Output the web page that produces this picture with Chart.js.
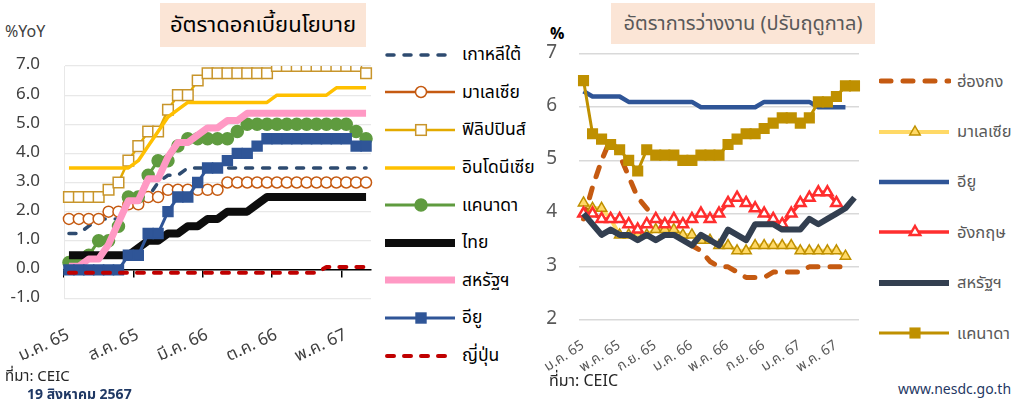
<!DOCTYPE html>
<html lang="th">
<head>
<meta charset="utf-8">
<title>อัตราดอกเบี้ยนโยบาย / อัตราการว่างงาน</title>
<script src="https://cdn.jsdelivr.net/npm/chart.js@4.4.1/dist/chart.umd.min.js"></script>
<style>
  body { margin: 0; width: 1023px; height: 401px; background: #fff; position: relative; overflow: hidden;
    font-family: "Noto Sans Thai", "Noto Sans", "DejaVu Sans", sans-serif; }
  .abs { position: absolute; }
  .titleBox { background: #fbe5d6; display: flex; align-items: center; justify-content: center; white-space: nowrap; }
  .legend { display: flex; flex-direction: column; }
  .legend .item { display: flex; align-items: center; white-space: nowrap; }
  .legend svg { flex: none; }
</style>
</head>
<body>

<div class="abs" style="left:5px;top:20px;font-size:16px;color:#404040">%YoY</div>
<div class="abs titleBox" style="left:160px;top:3px;width:206px;height:44px;font-size:22px;color:#000">อัตราดอกเบี้ยนโยบาย</div>
<div class="abs" style="left:0;top:0"><canvas id="rateChart" width="380" height="370"></canvas></div>
<div class="abs legend" id="rateLegend" style="left:385px;top:36px"></div>
<div class="abs" style="left:5px;top:365px;font-size:15px;color:#262626">ที่มา: CEIC</div>
<div class="abs" style="left:27px;top:384px;font-size:14px;font-weight:bold;color:#1f3864">19 สิงหาคม 2567</div>

<div class="abs" style="left:550px;top:22px;font-size:16px;font-weight:bold;color:#000">%</div>
<div class="abs titleBox" style="left:611px;top:3px;width:264px;height:41px;font-size:20px;color:#595959">อัตราการว่างงาน (ปรับฤดูกาล)</div>
<div class="abs" style="left:540px;top:0"><canvas id="unempChart" width="330" height="380"></canvas></div>
<div class="abs legend" id="unempLegend" style="left:879px;top:56px"></div>
<div class="abs" style="left:549px;top:369px;font-size:16px;color:#262626">ที่มา: CEIC</div>
<div class="abs" style="left:898px;top:379px;font-size:14px;color:#1f3864">www.nesdc.go.th</div>

<script>
/* global Chart */

// เดือน ม.ค. 65 - ก.ค. 67
const months = ['ม.ค. 65', 'ก.พ. 65', 'มี.ค. 65', 'เม.ย. 65', 'พ.ค. 65', 'มิ.ย. 65', 'ก.ค. 65', 'ส.ค. 65', 'ก.ย. 65', 'ต.ค. 65', 'พ.ย. 65', 'ธ.ค. 65',
  'ม.ค. 66', 'ก.พ. 66', 'มี.ค. 66', 'เม.ย. 66', 'พ.ค. 66', 'มิ.ย. 66', 'ก.ค. 66', 'ส.ค. 66', 'ก.ย. 66', 'ต.ค. 66', 'พ.ย. 66', 'ธ.ค. 66',
  'ม.ค. 67', 'ก.พ. 67', 'มี.ค. 67', 'เม.ย. 67', 'พ.ค. 67', 'มิ.ย. 67', 'ก.ค. 67']

// อัตราดอกเบี้ยนโยบาย (%)
const korea = [1.25, 1.25, 1.5, 1.75, 1.75, 1.75, 2.25, 2.5, 2.5, 3.0, 3.25, 3.25, 3.5, 3.5, 3.5, 3.5, 3.5, 3.5, 3.5, 3.5, 3.5, 3.5, 3.5, 3.5, 3.5, 3.5, 3.5, 3.5, 3.5, 3.5, 3.5]
const malaysiaRate = [1.75, 1.75, 1.75, 1.75, 2.0, 2.0, 2.25, 2.25, 2.5, 2.5, 2.75, 2.75, 2.75, 2.75, 2.75, 2.75, 3.0, 3.0, 3.0, 3.0, 3.0, 3.0, 3.0, 3.0, 3.0, 3.0, 3.0, 3.0, 3.0, 3.0, 3.0]
const philippines = [2.5, 2.5, 2.5, 2.5, 2.75, 3.0, 3.75, 4.25, 4.75, 4.75, 5.5, 6.0, 6.0, 6.5, 6.75, 6.75, 6.75, 6.75, 6.75, 6.75, 6.75, 7.0, 7.0, 7.0, 7.0, 7.0, 7.0, 7.0, 7.0, 7.0, 6.75]
const indonesia = [3.5, 3.5, 3.5, 3.5, 3.5, 3.5, 3.5, 3.75, 4.25, 4.75, 5.25, 5.5, 5.75, 5.75, 5.75, 5.75, 5.75, 5.75, 5.75, 5.75, 5.75, 6.0, 6.0, 6.0, 6.0, 6.0, 6.0, 6.25, 6.25, 6.25, 6.25]
const canadaRate = [0.25, 0.25, 0.5, 1.0, 1.0, 1.5, 2.5, 2.5, 3.25, 3.75, 3.75, 4.25, 4.5, 4.5, 4.5, 4.5, 4.5, 4.75, 5.0, 5.0, 5.0, 5.0, 5.0, 5.0, 5.0, 5.0, 5.0, 5.0, 5.0, 4.75, 4.5]
const thailand = [0.5, 0.5, 0.5, 0.5, 0.5, 0.5, 0.5, 0.75, 1.0, 1.0, 1.25, 1.25, 1.5, 1.5, 1.75, 1.75, 2.0, 2.0, 2.0, 2.25, 2.5, 2.5, 2.5, 2.5, 2.5, 2.5, 2.5, 2.5, 2.5, 2.5, 2.5]
const usRate = [0.125, 0.125, 0.375, 0.375, 0.875, 1.625, 2.375, 2.375, 3.125, 3.125, 3.875, 4.375, 4.375, 4.625, 4.875, 4.875, 5.125, 5.125, 5.375, 5.375, 5.375, 5.375, 5.375, 5.375, 5.375, 5.375, 5.375, 5.375, 5.375, 5.375, 5.375]
const euRate = [0, 0, 0, 0, 0, 0, 0.5, 0.5, 1.25, 1.25, 2.0, 2.5, 2.5, 3.0, 3.5, 3.5, 3.75, 4.0, 4.0, 4.25, 4.5, 4.5, 4.5, 4.5, 4.5, 4.5, 4.5, 4.5, 4.5, 4.25, 4.25]
const japan = [-0.1, -0.1, -0.1, -0.1, -0.1, -0.1, -0.1, -0.1, -0.1, -0.1, -0.1, -0.1, -0.1, -0.1, -0.1, -0.1, -0.1, -0.1, -0.1, -0.1, -0.1, -0.1, -0.1, -0.1, -0.1, -0.1, 0.1, 0.1, 0.1, 0.1, 0.1]
const rateTicks = [-1, 0, 1, 2, 3, 4, 5, 6, 7]

// อัตราการว่างงาน (%)
const hkUnemp = [3.9, 4.5, 5.0, 5.4, 5.1, 4.7, 4.3, 4.1, 3.9, 3.8, 3.7, 3.5, 3.4, 3.3, 3.1, 3.0, 3.0, 2.9, 2.8, 2.8, 2.8, 2.9, 2.9, 2.9, 2.9, 3.0, 3.0, 3.0, 3.0, 3.0, null]
const myUnemp = [4.2, 4.1, 4.1, 3.9, 3.6, 3.6, 3.6, 3.6, 3.7, 3.7, 3.7, 3.6, 3.6, 3.5, 3.5, 3.4, 3.4, 3.3, 3.3, 3.4, 3.4, 3.4, 3.4, 3.4, 3.3, 3.3, 3.3, 3.3, 3.3, 3.2, null]
const euUnemp = [6.3, 6.2, 6.2, 6.2, 6.2, 6.1, 6.1, 6.1, 6.1, 6.1, 6.1, 6.1, 6.1, 6.0, 6.0, 6.0, 6.0, 6.0, 6.0, 6.0, 6.1, 6.1, 6.1, 6.1, 6.1, 6.1, 6.0, 6.0, 6.0, 6.0, null]
const ukUnemp = [4.0, 4.0, 3.9, 3.9, 3.9, 3.8, 3.7, 3.8, 3.9, 3.8, 3.9, 3.8, 3.9, 4.0, 3.9, 4.0, 4.2, 4.3, 4.2, 4.1, 4.0, 3.9, 3.8, 4.0, 4.2, 4.3, 4.4, 4.4, 4.2, null, null]
const usUnemp = [4.0, 3.8, 3.6, 3.7, 3.6, 3.6, 3.5, 3.6, 3.5, 3.6, 3.6, 3.5, 3.4, 3.6, 3.5, 3.4, 3.7, 3.6, 3.5, 3.8, 3.8, 3.8, 3.7, 3.7, 3.7, 3.9, 3.8, 3.9, 4.0, 4.1, 4.3]
const caUnemp = [6.5, 5.5, 5.4, 5.3, 5.2, 5.0, 4.8, 5.2, 5.1, 5.1, 5.1, 5.0, 5.0, 5.1, 5.1, 5.1, 5.3, 5.4, 5.5, 5.5, 5.6, 5.7, 5.8, 5.8, 5.7, 5.8, 6.1, 6.1, 6.2, 6.4, 6.4]

const FONT = '"Noto Sans Thai", "Noto Sans", "DejaVu Sans", sans-serif'
Chart.defaults.font.family = FONT

const rateSeries = [
  { label: 'เกาหลีใต้', data: korea, color: '#2e4b70', width: 3.5, dash: [7, 10] },
  { label: 'มาเลเซีย', data: malaysiaRate, color: '#c55a11', width: 2.5, point: 'circle', radius: 5.5, fill: '#fff' },
  { label: 'ฟิลิปปินส์', data: philippines, color: '#e3aa00', width: 2.5, point: 'rect', radius: 7.5, fill: '#fff', pointBorder: '#c8952b' },
  { label: 'อินโดนีเซีย', data: indonesia, color: '#ffc000', width: 3.5 },
  { label: 'แคนาดา', data: canadaRate, color: '#5f9b3f', width: 3, point: 'circle', radius: 6, fill: '#5f9b3f' },
  { label: 'ไทย', data: thailand, color: '#0d0d0d', width: 8 },
  { label: 'สหรัฐฯ', data: usRate, color: '#ff99c4', width: 7 },
  { label: 'อียู', data: euRate, color: '#2f5597', width: 3, point: 'rect', radius: 7, fill: '#2f5597' },
  { label: 'ญี่ปุ่น', data: japan, color: '#c00000', width: 4, dash: [7, 10] }
]

const unempSeries = [
  { label: 'ฮ่องกง', data: hkUnemp, color: '#c55a11', width: 5, dash: [10, 12] },
  { label: 'มาเลเซีย', data: myUnemp, color: '#ffd966', width: 4, point: 'triangle', radius: 6, fill: '#ffd966', pointBorder: '#bf9000' },
  { label: 'อียู', data: euUnemp, color: '#2f5597', width: 4.5 },
  { label: 'อังกฤษ', data: ukUnemp, color: '#ff2e2e', width: 3.5, point: 'triangle', radius: 6, fill: '#fff', pointWidth: 2.5 },
  { label: 'สหรัฐฯ', data: usUnemp, color: '#333f50', width: 6 },
  { label: 'แคนาดา', data: caUnemp, color: '#bf9000', width: 3, point: 'rect', radius: 6.8, fill: '#bf9000' }
]

// Excel วาดซีรีส์หลังทับซีรีส์แรก
function toDataset (s, i, list) {
  return {
    label: s.label,
    data: s.data,
    borderColor: s.color,
    borderWidth: s.width,
    borderDash: s.dash || [],
    borderCapStyle: s.dash ? 'round' : 'butt',
    borderJoinStyle: 'round',
    tension: 0,
    pointStyle: s.point || 'circle',
    pointRadius: s.point ? s.radius : 0,
    pointHoverRadius: s.point ? s.radius : 0,
    pointBackgroundColor: s.fill,
    pointBorderColor: s.pointBorder || s.color,
    pointBorderWidth: s.pointWidth || 1.5,
    order: list.length - i
  }
}

function markerSvg (s) {
  const w = 72
  const h = 20
  const cy = h / 2
  const dash = s.dash ? ` stroke-dasharray="${s.dash.join(' ')}" stroke-linecap="round"` : ''
  let svg = `<svg width="${w}" height="${h}"><line x1="${s.dash ? 2 : 0}" y1="${cy}" x2="${w - 2}" y2="${cy}" stroke="${s.color}" stroke-width="${s.width}"${dash}/>`
  const pb = s.pointBorder || s.color
  const pw = s.pointWidth || 1.5
  const cx = w / 2
  if (s.point === 'circle') {
    svg += `<circle cx="${cx}" cy="${cy}" r="${s.radius}" fill="${s.fill}" stroke="${pb}" stroke-width="${pw}"/>`
  } else if (s.point === 'rect') {
    const half = s.radius * Math.SQRT1_2
    svg += `<rect x="${cx - half}" y="${cy - half}" width="${half * 2}" height="${half * 2}" fill="${s.fill}" stroke="${pb}" stroke-width="${pw}"/>`
  } else if (s.point === 'triangle') {
    const r = s.radius
    const pts = [[cx, cy - r], [cx + r * 0.866, cy + r / 2], [cx - r * 0.866, cy + r / 2]].map(p => p.join(',')).join(' ')
    svg += `<polygon points="${pts}" fill="${s.fill}" stroke="${pb}" stroke-width="${pw}"/>`
  }
  return svg + '</svg>'
}

function renderLegend (id, series, rowHeight, gap, fontSize, color) {
  const box = document.getElementById(id)
  box.innerHTML = series.map((s) => `
    <div class="item" style="height:${rowHeight}px">
      ${markerSvg(s)}
      <span style="margin-left:${gap}px;font-size:${fontSize}px;color:${color}">${s.label}</span>
    </div>
  `).join('')
}

// ขนาดแกนคงที่ ไม่ให้ป้ายเอียงดันพื้นที่กราฟ
function fixBox (w, h) {
  return (s) => {
    if (w !== null) s.width = w
    if (h !== null) s.height = h
    s.paddingLeft = 0
    s.paddingRight = 0
  }
}

const rateChart = new Chart(document.getElementById('rateChart'), {
  type: 'line',
  data: { labels: months, datasets: rateSeries.map(toDataset) },
  options: {
    responsive: false,
    animation: false,
    events: [],
    layout: { padding: { top: 66, right: 6, left: 0, bottom: 0 } },
    plugins: { legend: { display: false }, tooltip: { enabled: false } },
    scales: {
      x: {
        offset: true,
        grid: { display: false, drawTicks: false },
        border: { display: false },
        ticks: {
          autoSkip: false,
          minRotation: 25,
          maxRotation: 25,
          padding: 27,
          color: '#404040',
          font: { size: 17 },
          callback: (v, i) => (i % 7 === 0 ? months[i] : '')
        },
        afterFit: fixBox(null, 71)
      },
      x2: {
        type: 'category',
        position: { y: 0 },
        offset: true,
        grid: {
          offset: true,
          drawOnChartArea: false,
          tickLength: 7,
          lineWidth: 1.5,
          color: (c) => (c.index !== undefined && c.index % 7 === 0 ? '#000' : 'rgba(0,0,0,0)')
        },
        border: { color: '#000', width: 1.5 },
        ticks: { display: false },
        afterFit: fixBox(null, 0)
      },
      y: {
        min: rateTicks[0],
        max: rateTicks[rateTicks.length - 1],
        afterBuildTicks: (s) => { s.ticks = rateTicks.map(v => ({ value: v })) },
        ticks: { padding: 24, color: '#404040', font: { size: 17 }, callback: v => v.toFixed(1) },
        grid: { color: '#e8e8e8', lineWidth: 1.2, drawTicks: false },
        border: { color: '#e8e8e8' },
        afterFit: fixBox(64, null)
      }
    }
  }
})

const unempChart = new Chart(document.getElementById('unempChart'), {
  type: 'line',
  data: { labels: months, datasets: unempSeries.map(toDataset) },
  options: {
    responsive: false,
    animation: false,
    events: [],
    layout: { padding: { top: 54, right: 11, left: 0, bottom: 0 } },
    plugins: { legend: { display: false }, tooltip: { enabled: false } },
    scales: {
      x: {
        offset: true,
        grid: { display: false, drawTicks: false },
        border: { display: false },
        ticks: {
          autoSkip: false,
          minRotation: 33,
          maxRotation: 33,
          padding: 18,
          color: '#595959',
          font: { size: 14 },
          callback: (v, i) => (i % 4 === 0 ? months[i] : '')
        },
        afterFit: fixBox(null, 60)
      },
      y: {
        min: 2,
        max: 7,
        ticks: { stepSize: 1, padding: 22, color: '#595959', font: { size: 19 } },
        grid: { color: '#d9d9d9', lineWidth: 1.5, drawTicks: false },
        border: { display: false },
        afterFit: fixBox(39, null)
      }
    }
  }
})

renderLegend('rateLegend', rateSeries, 37.6, 5, 17.5, '#000')
renderLegend('unempLegend', unempSeries, 50.4, 6, 16.5, '#595959')
</script>
</body>
</html>
